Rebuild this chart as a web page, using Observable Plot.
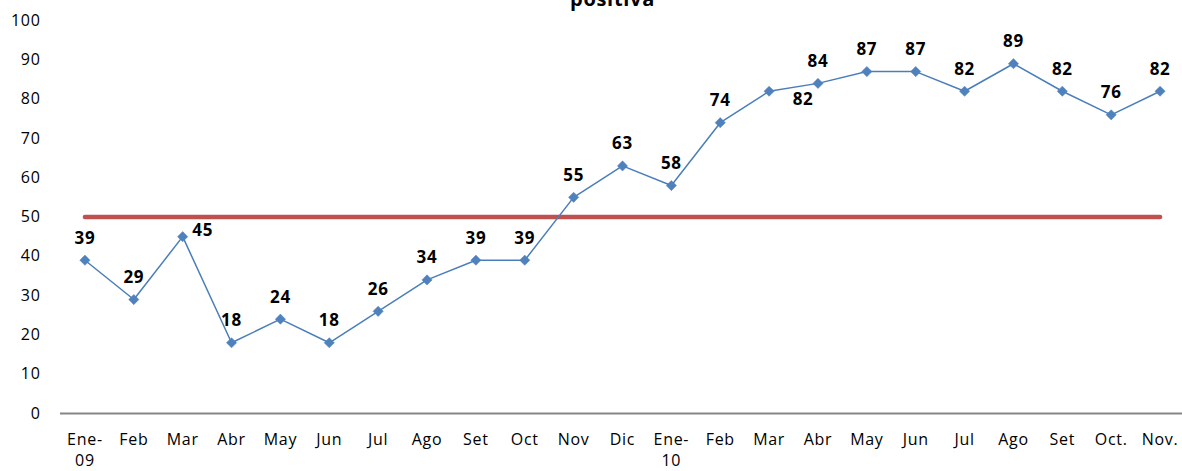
<!DOCTYPE html>
<html>
<head>
<meta charset="utf-8">
<script src="https://cdn.jsdelivr.net/npm/d3@7"></script>
<script src="https://cdn.jsdelivr.net/npm/@observablehq/plot@0.6"></script>
<style>
  html, body { margin: 0; padding: 0; background: #fff; }
  svg { display: block; }
</style>
</head>
<body>
<div id="chart"></div>
<script>
const months = ["Ene-\n09","Feb","Mar","Abr","May","Jun","Jul","Ago","Set","Oct","Nov","Dic",
                "Ene-\n10","Feb","Mar","Abr","May","Jun","Jul","Ago","Set","Oct.","Nov."];
const values = [39,29,45,18,24,18,26,34,39,39,55,63,58,74,82,84,87,87,82,89,82,76,82];
const target = 50;
const yTicks = [0,10,20,30,40,50,60,70,80,90,100];
const title = "positiva";

const data = values.map((v, i) => ({i, v}));
const idx = months.map((_, i) => i);
const rightLabel = new Set([2]);       // label placed to the right
const belowRightLabel = new Set([14]); // label placed below-right
const topData = data.filter(d => !rightLabel.has(d.i) && !belowRightLabel.has(d.i));

const font = "'Open Sans', 'Liberation Sans', sans-serif";

const chart = Plot.plot({
  width: 1182,
  height: 471,
  marginTop: 20,
  marginBottom: 58,
  marginLeft: 60,
  marginRight: 0,
  style: {fontFamily: font, fontSize: "16px", color: "#000", background: "#fff", letterSpacing: "0.7px"},
  x: {type: "point", domain: idx, padding: 0.5, range: [60, 1184], round: false},
  y: {domain: [0, 100], range: [413, 20]},
  marks: [
    Plot.axisY({ticks: yTicks, tickSize: 0, tickPadding: 20, label: null, fontSize: 16}),
    Plot.axisX({tickSize: 0, tickPadding: 16, label: null, tickFormat: i => months[i],
                fontSize: 16, lineHeight: 1.35, lineAnchor: "top"}),
    Plot.ruleY([0], {stroke: "#868686", strokeWidth: 2}),
    Plot.lineY([{i: 0, v: target}, {i: idx.length - 1, v: target}],
               {x: "i", y: "v", stroke: "#C0504D", strokeWidth: 4.5}),
    Plot.lineY(data, {x: "i", y: "v", stroke: "#4A7EBB", strokeWidth: 1.5}),
    Plot.dot(data, {x: "i", y: "v", symbol: "diamond2", r: 4.6, fill: "#4F81BD", stroke: "#4F81BD", strokeWidth: 0.5}),
    Plot.text(topData, {x: "i", y: "v", text: d => String(d.v), dy: -22,
                        fontWeight: "bold", fontSize: 17, fill: "#000"}),
    Plot.text(data.filter(d => rightLabel.has(d.i)), {x: "i", y: "v", text: d => String(d.v),
                        dx: 20, dy: -6, fontWeight: "bold", fontSize: 17, fill: "#000"}),
    Plot.text(data.filter(d => belowRightLabel.has(d.i)), {x: "i", y: "v", text: d => String(d.v),
                        dx: 34, dy: 8, fontWeight: "bold", fontSize: 17, fill: "#000"}),
    Plot.text([title], {frameAnchor: "top", dx: -9, dy: -15, lineAnchor: "bottom",
                        fontWeight: "bold", fontSize: 20, fill: "#000"})
  ]
});
document.getElementById("chart").appendChild(chart);
</script>
</body>
</html>
